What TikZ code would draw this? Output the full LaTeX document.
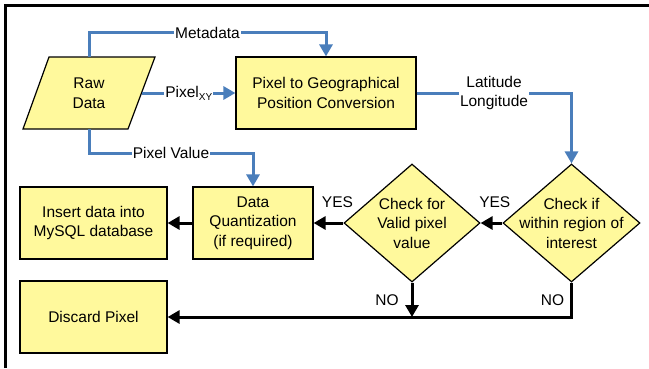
\documentclass[tikz,border=0pt]{standalone}
\usepackage{fontspec}
\setmainfont{Liberation Sans}
\usetikzlibrary{arrows.meta,shapes.geometric,calc}
\definecolor{boxyellow}{HTML}{FFF99C}
\definecolor{flowblue}{HTML}{4A7EBB}
\begin{document}
\begin{tikzpicture}[x=1pt,y=-1pt,
  every node/.style={font=\fontsize{15.5}{19.5}\selectfont, text=black},
  box/.style={draw=black, line width=1.2pt, fill=boxyellow, minimum width=#1, minimum height=72pt, align=center, inner sep=2pt},
  dia/.style={draw=black, line width=1.2pt, fill=boxyellow, diamond, minimum width=136pt, minimum height=118pt, inner sep=0pt},
  bluearrow/.style={draw=flowblue, line width=3pt, -{Triangle[length=12pt,width=13pt]}},
  blackarrow/.style={draw=black, line width=3pt, -{Triangle[length=12pt,width=13pt]}},
  lbl/.style={fill=white, inner sep=1pt}
]
\useasboundingbox (0,0) rectangle (649,368);
\draw[line width=3pt] (5,368) -- (5,5) -- (649,5);

% Raw data parallelogram
\draw[line width=1.2pt, fill=boxyellow] (23,129) -- (49,57) -- (155,57) -- (128,129) -- cycle;
\node[minimum width=106pt, minimum height=72pt, align=center, inner sep=0pt] (raw) at (89,93) {Raw\\Data};

\node[box=180pt] (geo) at (326,93) {Pixel to Geographical\\Position Conversion};
\node[box=120pt] (dq) at (253,223) {Data\\Quantization\\(if required)};
\node[box=147pt] (ins) at (93.5,223) {Insert data into\\MySQL database};
\node[box=147pt] (disc) at (93.5,317) {Discard Pixel};
\node[dia, label={[align=center]center:Check for\\Valid pixel\\value}] (valid) at (412,223) {};
\node[dia, minimum width=137pt, label={[align=center]center:Check if\\within region of\\interest}] (chk) at (571.5,223) {};

% blue connectors
\draw[bluearrow] (raw.north) -- ++(0,-24) -| node[lbl,pos=0.25]{Metadata} (geo.north);
\draw[bluearrow] (raw.east) -- node[lbl]{Pixel\raisebox{-0.35ex}{\fontsize{10}{12}\selectfont XY}} (geo.west);
\draw[bluearrow] (raw.south) -- ++(0,24) -| node[lbl,pos=0.25]{Pixel Value} (dq.north);
\draw[bluearrow] (geo.east) -| node[lbl,pos=0.25,align=center]{Latitude\\Longitude} (chk.north);

% black connectors
\draw[blackarrow] (dq.west) -- (ins.east);
\draw[blackarrow] (valid.west) -- node[pos=0.2,yshift=21pt]{YES} (dq.east);
\draw[blackarrow] (chk.west) -- node[pos=0.35,yshift=21pt]{YES} (valid.east);
\draw[blackarrow] (valid.south) -- node[midway,xshift=-25pt]{NO} (valid.south |- disc.east);
\draw[blackarrow] (chk.south) |- node[pos=0.25,xshift=-19pt]{NO} (disc.east);
\end{tikzpicture}
\end{document}
